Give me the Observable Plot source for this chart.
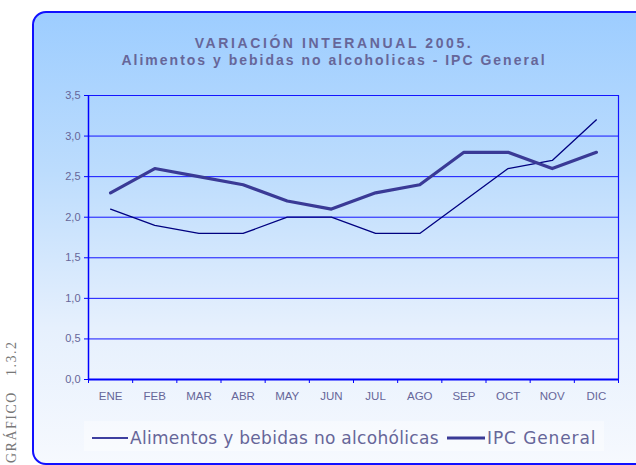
<!DOCTYPE html>
<html><head><meta charset="utf-8">
<script src="https://cdn.jsdelivr.net/npm/d3@7"></script>
<script src="https://cdn.jsdelivr.net/npm/@observablehq/plot@0.6"></script>
<style>
body{margin:0;background:#fff;}
#wrap{position:relative;width:636px;height:465px;overflow:hidden;font-family:"Liberation Sans",Arial,sans-serif;}
#panel{position:absolute;left:32px;top:11px;width:620px;height:450px;border:2px solid #1010ff;border-radius:14px;
 background:linear-gradient(to bottom,#9dcdff 0%,#bcdcfd 35%,#e6f0fd 70%,#f6f9fe 100%);}
#t1,#t2{position:absolute;left:32px;width:604px;text-align:center;color:#666699;font-weight:bold;font-size:14px;white-space:nowrap;}
#t1{top:35px;letter-spacing:2.6px;}
#t2{top:52px;letter-spacing:2px;}
#legend{position:absolute;left:84px;top:421px;width:520px;height:30px;background:rgba(255,255,255,0.4);}
#side{position:absolute;left:4px;top:463px;transform-origin:0 0;transform:rotate(-90deg);
 font-family:"Liberation Serif",serif;font-size:14px;color:#777;letter-spacing:1.5px;white-space:nowrap;}
#chart{position:absolute;left:0;top:80px;}
</style></head>
<body><div id="wrap">
<div id="panel"></div>
<div id="side">GRÁFICO&nbsp;&nbsp;&nbsp;1.3.2</div>
<div id="t1">VARIACIÓN INTERANUAL 2005.</div>
<div id="t2">Alimentos y bebidas no alcoholicas - IPC General</div>
<div id="chart"></div>
<div id="legend"></div>
</div>
<script>
const months = ["ENE","FEB","MAR","ABR","MAY","JUN","JUL","AGO","SEP","OCT","NOV","DIC"];
const alimentos = [2.1,1.9,1.8,1.8,2.0,2.0,1.8,1.8,2.2,2.6,2.7,3.2];
const ipc = [2.3,2.6,2.5,2.4,2.2,2.1,2.3,2.4,2.8,2.8,2.6,2.8];
const yTicks = [0,0.5,1,1.5,2,2.5,3,3.5];
const seriesNames = ["Alimentos y bebidas no alcohólicas","IPC General"];

const rowsA = months.map((m,i)=>({i, v: alimentos[i]}));
const rowsB = months.map((m,i)=>({i, v: ipc[i]}));
const bounds = d3.range(13).map(k=>k-0.5);
const fmt = d=>d.toFixed(1).replace(".",",");

const chart = Plot.plot({
  width:636, height:330,
  marginLeft:88, marginRight:18, marginTop:15, marginBottom:31,
  style:{background:"transparent",fontFamily:"Liberation Sans, Arial, sans-serif"},
  x:{type:"linear",domain:[-0.5,11.5]},
  y:{domain:[0,3.5]},
  marks:[
    Plot.ruleY(yTicks.filter(d=>d>0),{stroke:"#1414ff",strokeWidth:1}),
    Plot.ruleX([11.5],{y1:0,y2:3.5,stroke:"#1414ff",strokeWidth:1.2}),
    Plot.ruleX([-0.5],{y1:0,y2:3.5,stroke:"#0000ff",strokeWidth:1.5}),
    Plot.axisY({ticks:yTicks,tickFormat:fmt,tickSize:4,tickPadding:4,stroke:"#0000ff",color:"#666699",fontSize:11,label:null}),
    Plot.axisX({ticks:bounds,tickFormat:()=>"",tickSize:4,stroke:"#0000ff",label:null}),
    Plot.axisX({ticks:d3.range(12),tickFormat:i=>months[i],tickSize:0,tickPadding:12,color:"#666699",fontSize:11.5,label:null,style:{letterSpacing:"1px"}}),
    Plot.ruleY([0],{stroke:"#0000ff",strokeWidth:2.2}),
    Plot.line(rowsA,{x:"i",y:"v",stroke:"#000080",strokeWidth:1.3}),
    Plot.line(rowsB,{x:"i",y:"v",stroke:"#3a3a96",strokeWidth:3.2})
  ]
});
document.getElementById("chart").appendChild(chart);

// legend
const lg = d3.select("#legend").append("svg").attr("width",520).attr("height",30);
const items = [{x0:8,x1:44,w:1.3,c:"#000080",tx:46,ls:0.3,label:seriesNames[0]},
               {x0:363,x1:401,w:3.2,c:"#3a3a96",tx:403,ls:0.9,label:seriesNames[1]}];
items.forEach(it=>{
  lg.append("line").attr("x1",it.x0).attr("x2",it.x1).attr("y1",17).attr("y2",17).attr("stroke",it.c).attr("stroke-width",it.w);
  lg.append("text").attr("x",it.tx).attr("y",23).attr("fill","#666699").attr("font-size",17)
    .attr("letter-spacing",it.ls+"px")
    .attr("font-family","DejaVu Sans, Verdana, sans-serif").text(it.label);
});
</script>
</body></html>
